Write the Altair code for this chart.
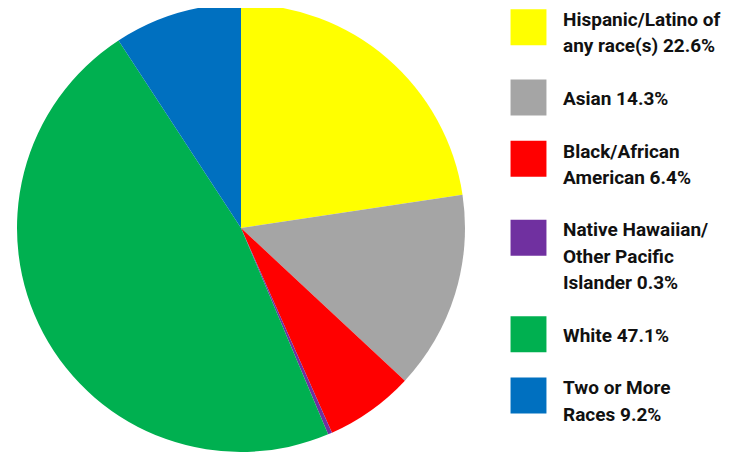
import altair as alt
import pandas as pd

categories = ["Hispanic/Latino of any race(s)", "Asian", "Black/African American",
              "Native Hawaiian/Other Pacific Islander", "White", "Two or More Races"]
values = [22.6, 14.3, 6.4, 0.3, 47.1, 9.2]
legend_lines = [
    ["Hispanic/Latino of", "any race(s) 22.6%"],
    ["Asian 14.3%"],
    ["Black/African", "American 6.4%"],
    ["Native Hawaiian/", "Other Pacific", "Islander 0.3%"],
    ["White 47.1%"],
    ["Two or More", "Races 9.2%"],
]
colors = ["#FFFF00", "#A5A5A5", "#FF0000", "#7030A0", "#00B050", "#0070C0"]

pie_df = pd.DataFrame({"cat": categories, "value": values, "order": range(len(categories))})

# legend layout in "line" units
sq_rows, txt_rows = [], []
line = 0
for i, (cat, lines) in enumerate(zip(categories, legend_lines)):
    if len(lines) > 1:
        sq_rows.append({"cat": cat, "pos": line + 0.05})
    else:
        sq_rows.append({"cat": cat, "pos": line - 0.28})
    for ln in lines:
        txt_rows.append({"cat": cat, "text": ln, "pos": line})
        line += 1
    line += 1  # blank line between items
sq_df = pd.DataFrame(sq_rows)
txt_df = pd.DataFrame(txt_rows)

color_scale = alt.Scale(domain=categories, range=colors)
yscale = alt.Scale(domain=[0, 15], range=[18, 412.5])
FONT = "Roboto"

pie = alt.Chart(pie_df).mark_arc(radius=224, stroke=None).encode(
    theta=alt.Theta("value:Q", stack=True),
    order=alt.Order("order:Q"),
    color=alt.Color("cat:N", scale=color_scale, legend=None),
    x=alt.value(233),
    y=alt.value(220),
)

squares = alt.Chart(sq_df).mark_square(size=1290, opacity=1, filled=True).encode(
    x=alt.value(520.5),
    y=alt.Y("pos:Q", scale=yscale, axis=None),
    color=alt.Color("cat:N", scale=color_scale, legend=None),
)

texts = alt.Chart(txt_df).mark_text(
    align="left", baseline="alphabetic", font=FONT, fontSize=19, fontWeight="bold", color="#111111"
).encode(
    x=alt.value(555),
    y=alt.Y("pos:Q", scale=yscale, axis=None),
    text="text:N",
)

chart = alt.layer(pie, squares, texts).properties(
    width=722, height=444, padding=0, autosize="none"
).configure_view(stroke=None)

chart.save("out.html", embed_options={"renderer": "svg", "actions": False})
